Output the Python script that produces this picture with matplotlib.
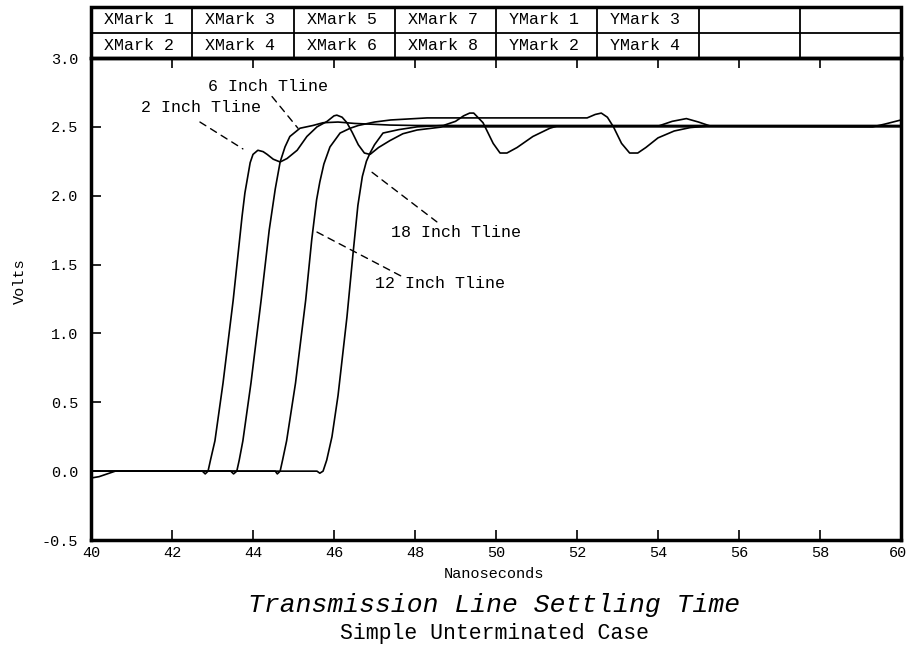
import matplotlib
matplotlib.use('Agg')
import matplotlib.pyplot as plt
from matplotlib.patches import Rectangle
from matplotlib.transforms import ScaledTranslation

MONO = 'Liberation Mono'

# --- waveform samples (ns, V) ---
t_2in = [40.0, 40.2, 40.4, 40.6, 42.75, 42.82, 42.89, 42.95, 43.06, 43.26, 43.51,
         43.73, 43.80, 43.93, 44.00, 44.12, 44.25, 44.35, 44.50, 44.67, 44.84,
         45.09, 45.33, 45.58, 45.83, 46.00, 46.07, 46.20, 46.32, 46.45, 46.60,
         46.75, 46.89, 47.10, 47.38, 47.70, 48.05, 48.69, 60.0]
v_2in = [-0.05, -0.04, -0.02, 0.0, 0.0, -0.02, 0.0, 0.08, 0.22, 0.64, 1.24,
         1.85, 2.02, 2.24, 2.30, 2.33, 2.32, 2.30, 2.265, 2.245, 2.27,
         2.33, 2.43, 2.50, 2.54, 2.58, 2.585, 2.57, 2.53, 2.46, 2.37,
         2.31, 2.30, 2.35, 2.40, 2.45, 2.477, 2.50, 2.50]

t_6in = [40.0, 43.45, 43.52, 43.60, 43.66, 43.75, 43.95, 44.20, 44.40, 44.55,
         44.67, 44.79, 44.91, 45.16, 45.48, 45.73, 46.10, 46.50, 47.38, 48.0, 60.0]
v_6in = [0.0, 0.0, -0.02, 0.0, 0.08, 0.22, 0.64, 1.24, 1.75, 2.05,
         2.245, 2.354, 2.43, 2.49, 2.51, 2.53, 2.535, 2.525, 2.513, 2.51, 2.51]

t_12in = [40.0, 44.55, 44.60, 44.67, 44.73, 44.83, 45.05, 45.30, 45.45, 45.57,
          45.65, 45.75, 45.90, 46.15, 46.40, 46.60, 47.00, 47.40, 48.00, 48.30,
          52.25, 52.45, 52.60, 52.75, 52.90, 53.10, 53.30, 53.50, 53.70, 54.00,
          54.40, 54.80, 55.20, 59.30, 59.60, 60.0]
v_12in = [0.0, 0.0, -0.02, 0.0, 0.08, 0.22, 0.64, 1.24, 1.68, 1.97,
          2.10, 2.23, 2.354, 2.455, 2.49, 2.51, 2.535, 2.55, 2.56, 2.565,
          2.565, 2.59, 2.60, 2.57, 2.50, 2.38, 2.31, 2.31, 2.35, 2.42,
          2.47, 2.495, 2.505, 2.50, 2.52, 2.55]

t_18in = [40.0, 45.58, 45.65, 45.73, 45.82, 45.95, 46.10, 46.32, 46.47, 46.59,
          46.70, 46.80, 46.89, 47.00, 47.21, 47.60, 48.05, 48.70, 49.00, 49.20,
          49.35, 49.45, 49.68, 49.93, 50.10, 50.27, 50.52, 50.91, 51.33, 51.50,
          54.00, 54.35, 54.70, 55.00, 55.30, 60.0]
v_18in = [0.0, 0.0, -0.015, 0.0, 0.08, 0.25, 0.55, 1.12, 1.58, 1.93,
          2.14, 2.25, 2.31, 2.37, 2.455, 2.48, 2.50, 2.51, 2.54, 2.58,
          2.60, 2.60, 2.53, 2.38, 2.31, 2.31, 2.35, 2.43, 2.49, 2.505,
          2.505, 2.54, 2.56, 2.535, 2.505, 2.505]

# marker table cells
marks_top = ['XMark 1', 'XMark 3', 'XMark 5', 'XMark 7', 'YMark 1', 'YMark 3', '', '']
marks_bottom = ['XMark 2', 'XMark 4', 'XMark 6', 'XMark 8', 'YMark 2', 'YMark 4', '', '']

# curve labels: text, text centre, leader start, leader end
labels = [
    ('6 Inch Tline', (44.37, 2.79), (44.47, 2.72), (45.11, 2.49)),
    ('2 Inch Tline', (42.72, 2.64), (42.69, 2.535), (43.75, 2.34)),
    ('18 Inch Tline', (49.01, 1.736), (46.94, 2.17), (48.54, 1.81)),
    ('12 Inch Tline', (48.62, 1.366), (45.58, 1.736), (47.70, 1.41)),
]

xticks = list(range(40, 61, 2))
yticks = [-0.5, 0.0, 0.5, 1.0, 1.5, 2.0, 2.5, 3.0]

W, H = 908, 648
fig = plt.figure(figsize=(W / 100, H / 100), dpi=100)
ax = fig.add_axes([91 / W, 1 - 540 / H, 810 / W, 482 / H])

for t, v in [(t_2in, v_2in), (t_6in, v_6in), (t_12in, v_12in), (t_18in, v_18in)]:
    ax.plot(t, v, color='black', lw=1.2)

for txt, pos, p0, p1 in labels:
    ax.text(pos[0], pos[1], txt, ha='center', va='center', fontsize=12, family=MONO)
    ax.annotate('', xy=p1, xytext=p0,
                arrowprops=dict(arrowstyle='-', linestyle=(0, (5, 4)), lw=1.0,
                                color='black', shrinkA=0, shrinkB=0))

ax.set_xlim(40, 60)
ax.set_ylim(-0.5, 3.0)
ax.set_xticks(xticks)
ax.set_xticklabels([str(x) for x in xticks], family=MONO)
ax.set_yticks(yticks)
ax.set_yticklabels(['%.1f' % y for y in yticks], family=MONO)
ax.tick_params(direction='in', length=7, width=1.2, top=True, right=False,
               labelsize=11, colors='black')
ax.tick_params(axis='y', pad=9)
ax.tick_params(axis='x', pad=4)
for s in ax.spines.values():
    s.set_linewidth(2.5)

# keep the last x label inside the canvas
last = ax.get_xticklabels()[-1]
last.set_transform(last.get_transform() + ScaledTranslation(-3 / 100, 0, fig.dpi_scale_trans))

# marker table on top
tab = fig.add_axes([91 / W, 1 - 58 / H, 810 / W, 51 / H])
tab.set_xlim(0, 8)
tab.set_ylim(0, 2)
tab.axis('off')
tab.add_patch(Rectangle((0, 0), 8, 2, fill=False, lw=2.5, ec='black', clip_on=False))
for i in range(1, 8):
    tab.plot([i, i], [0, 2], color='black', lw=1.3)
tab.plot([0, 8], [1, 1], color='black', lw=1.3)
for i in range(8):
    tab.text(i + 0.13, 1.5, marks_top[i], ha='left', va='center', fontsize=12, family=MONO)
    tab.text(i + 0.13, 0.5, marks_bottom[i], ha='left', va='center', fontsize=12, family=MONO)

fig.text(20 / W, 1 - 281 / H, 'Volts', rotation=90, ha='center', va='center',
         fontsize=11, family=MONO)
fig.text(494 / W, 1 - 574 / H, 'Nanoseconds', ha='center', va='center',
         fontsize=11, family=MONO)
fig.text(494 / W, 1 - 605 / H, 'Transmission Line Settling Time', ha='center', va='center',
         fontsize=19, family=MONO, fontstyle='italic')
fig.text(494 / W, 1 - 634 / H, 'Simple Unterminated Case', ha='center', va='center',
         fontsize=15.5, family=MONO)

fig.savefig('out.png', dpi=100)
